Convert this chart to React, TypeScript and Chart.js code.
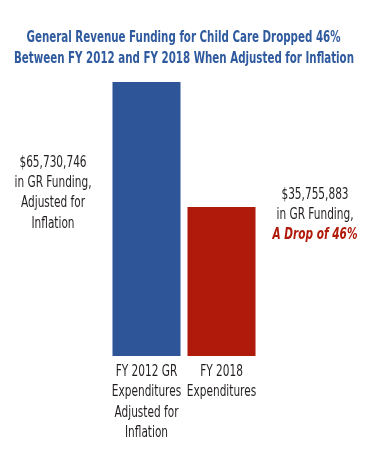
import React, { useEffect, useRef } from "react";
import { Chart, registerables } from "chart.js";

Chart.register(...registerables);

const categories: string[][] = [
  ["FY 2012 GR", "Expenditures", "Adjusted for", "Inflation"],
  ["FY 2018", "Expenditures"],
];
const values: number[] = [65730746, 35755883];
const titleLines: string[] = [
  "General Revenue Funding for Child Care Dropped 46%",
  "Between FY 2012 and FY 2018 When Adjusted for Inflation",
];
const leftNote: string[] = ["$65,730,746", "in GR Funding,", "Adjusted for", "Inflation"];
const rightNote: string[] = ["$35,755,883", "in GR Funding,"];
const rightEmphasis = "A Drop of 46%";

const FONT = "'DejaVu Sans Condensed', 'Liberation Sans Narrow', sans-serif";
const BLUE = "#2E5597";
const RED = "#B01A0B";
const TITLE = "#2F5A9E";
const TEXT = "#231F20";

function drawScaled(ctx: CanvasRenderingContext2D, text: string, x: number, y: number, sx: number) {
  ctx.save();
  ctx.translate(x, y);
  ctx.scale(sx, 1);
  ctx.fillText(text, 0, 0);
  ctx.restore();
}

const notesPlugin = {
  id: "notes",
  afterDraw(chart: any) {
    const ctx: CanvasRenderingContext2D = chart.ctx;
    const meta = chart.getDatasetMeta(0);
    const xScale = chart.scales.x;
    ctx.save();
    ctx.textAlign = "center";
    ctx.textBaseline = "middle";
    // title
    ctx.fillStyle = TITLE;
    ctx.font = `bold 16px ${FONT}`;
    const t1 = 314 / ctx.measureText(titleLines[0]).width;
    const t2 = 340 / ctx.measureText(titleLines[1]).width;
    drawScaled(ctx, titleLines[0], chart.width / 2 - 0.5, 38, t1);
    drawScaled(ctx, titleLines[1], chart.width / 2, 59, t2);
    // notes
    ctx.fillStyle = TEXT;
    ctx.font = `15px ${FONT}`;
    const k = 77 / ctx.measureText("in GR Funding,").width;
    const lx = 53;
    leftNote.forEach((t, i) => drawScaled(ctx, t, lx, 163 + i * 20.3, k));
    const rx = 315;
    rightNote.forEach((t, i) => drawScaled(ctx, t, rx, 195 + i * 20, k));
    // category labels under bars
    categories.forEach((lines, ci) => {
      const cx = xScale.getPixelForValue(ci);
      lines.forEach((t, i) => drawScaled(ctx, t, cx, 372 + i * 20.5, k));
    });
    ctx.fillStyle = RED;
    ctx.font = `italic bold 15px ${FONT}`;
    drawScaled(ctx, rightEmphasis, rx, 235, k);
    ctx.restore();
  },
};

export default function App() {
  const ref = useRef<HTMLCanvasElement | null>(null);
  useEffect(() => {
    if (!ref.current) return;
    const chart = new Chart(ref.current, {
      type: "bar",
      data: {
        labels: categories,
        datasets: [
          {
            data: values,
            backgroundColor: [BLUE, RED],
            borderWidth: 0,
            barPercentage: 0.907,
            categoryPercentage: 1,
          },
        ],
      },
      options: {
        animation: false,
        responsive: false,
        layout: { padding: { left: 109, right: 109, top: 82, bottom: 94 } },
        plugins: { legend: { display: false }, tooltip: { enabled: false }, title: { display: false } },
        scales: {
          x: {
            display: false,
          },
          y: {
            display: false,
            min: 0,
            max: values[0],
          },
        },
      },
      plugins: [notesPlugin],
    });
    return () => chart.destroy();
  }, []);
  return (
    <div style={{ position: "fixed", left: 0, top: 0, width: 368, height: 450, background: "#fff" }}>
      <canvas ref={ref} width={368} height={450} style={{ width: 368, height: 450 }} />
    </div>
  );
}
